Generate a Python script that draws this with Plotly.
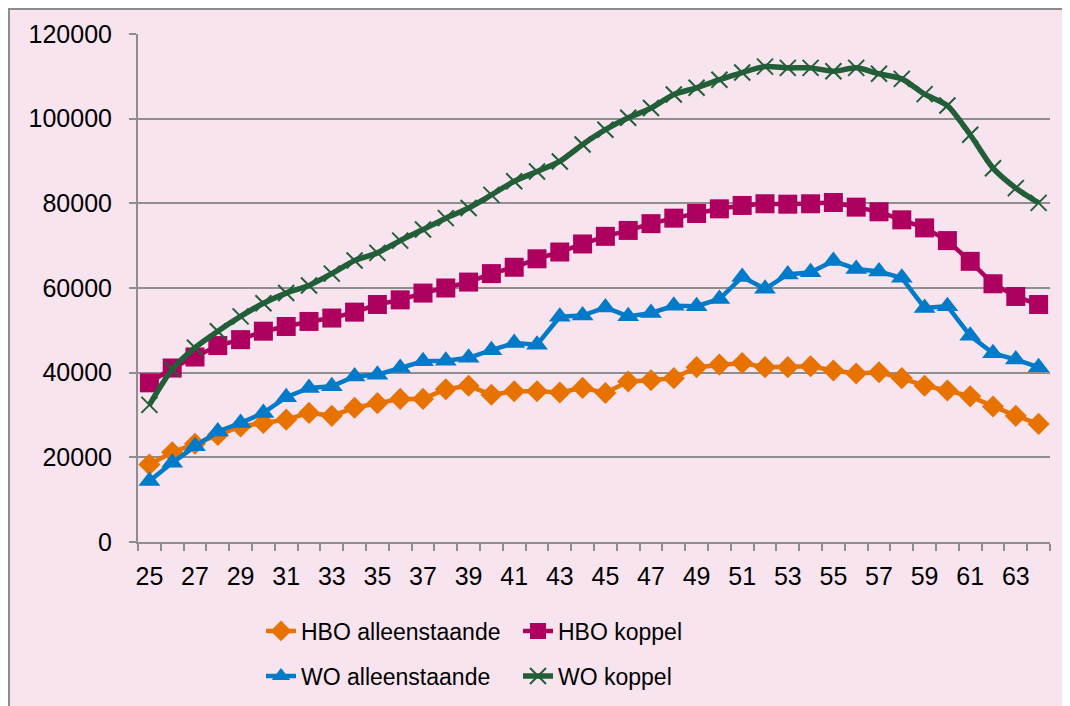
import plotly.graph_objects as go

ages = list(range(25, 65))

hbo_alleen = [18300, 21200, 23200, 25300, 27300, 28100, 28900, 30500, 29800, 31700,
              32800, 33800, 33800, 36100, 36900, 34800, 35600, 35600, 35300, 36400,
              35200, 37900, 38200, 38700, 41300, 41900, 42300, 41300, 41300, 41500,
              40500, 39800, 40100, 38700, 36900, 35800, 34400, 32000, 29800, 27900]

hbo_koppel = [37600, 41100, 43700, 46400, 47800, 49800, 50900, 52100, 52900, 54300,
              56100, 57200, 58800, 60000, 61400, 63400, 64900, 66900, 68500, 70400,
              72200, 73600, 75200, 76500, 77600, 78700, 79500, 79900, 79800, 79900,
              80200, 79100, 78000, 76100, 74200, 71200, 66300, 61000, 58000, 56100]

wo_alleen = [14400, 18700, 22600, 26100, 28100, 30500, 34200, 36400, 36800, 39100,
             39500, 41100, 42700, 42800, 43500, 45300, 47000, 46600, 53200, 53500,
             55400, 53300, 54100, 55800, 55700, 57400, 62600, 59800, 63200, 63700,
             66400, 64500, 63900, 62400, 55300, 55700, 48700, 44600, 43100, 41300]

wo_koppel = [32400, 40800, 45900, 49800, 53300, 56400, 58800, 60600, 63400, 66500,
             68300, 71200, 73800, 76500, 78900, 82000, 85200, 87500, 89900, 93900,
             97400, 100200, 102500, 105700, 107300, 109200, 110900, 112300, 112000, 112000,
             111200, 112000, 110600, 109400, 105800, 103100, 96200, 88300, 83600, 80100]

x_tick_labels = [str(a) for a in range(25, 65, 2)]
y_tick_values = [0, 20000, 40000, 60000, 80000, 100000, 120000]

ORANGE = "#E87200"
MAGENTA = "#AE005F"
BLUE = "#007AC9"
GREEN = "#225E38"
BG = "#F7E4EF"
GRID = "#8E8E8E"
FONT = "Liberation Sans, Arial, sans-serif"

fig = go.Figure()

fig.add_trace(go.Scatter(
    x=ages, y=hbo_alleen, name="HBO alleenstaande", mode="lines+markers",
    line=dict(color=ORANGE, width=4.5),
    marker=dict(symbol="diamond", size=17, color=ORANGE),
    legend="legend"))
fig.add_trace(go.Scatter(
    x=ages, y=hbo_koppel, name="HBO koppel", mode="lines+markers",
    line=dict(color=MAGENTA, width=4.5),
    marker=dict(symbol="square", size=19, color=MAGENTA),
    legend="legend"))
fig.add_trace(go.Scatter(
    x=ages, y=wo_alleen, name="WO alleenstaande", mode="lines+markers",
    line=dict(color=BLUE, width=4.5),
    marker=dict(symbol="triangle-up", size=19, color=BLUE),
    legend="legend2"))
fig.add_trace(go.Scatter(
    x=ages, y=wo_koppel, name="WO koppel", mode="lines+markers",
    line=dict(color=GREEN, width=5.5, shape="spline", smoothing=0.7),
    marker=dict(symbol="x-thin", size=16, color=GREEN,
                line=dict(color=GREEN, width=2)),
    legend="legend2"))

# page is offset by the browser's 8px body margin
OFF = 8
W, H = 1070 - OFF, 706 - OFF
L, R, T = 130, 20, 26
B = H - 534
pw, ph = W - L - R, H - T - B

def px_x(p):
    return (p - OFF - L) / pw

def px_y(p):
    return (H - B - (p - OFF)) / ph

fig.add_shape(type="rect", xref="paper", yref="paper",
              x0=px_x(OFF + 1), x1=px_x(1200), y0=px_y(OFF + 1), y1=px_y(900),
              fillcolor="rgba(0,0,0,0)", line=dict(color="#8C8C8C", width=2),
              layer="below")

boundaries = [a - 0.5 for a in ages] + [ages[-1] + 0.5]

fig.update_layout(
    width=W, height=H,
    margin=dict(l=L, r=R, t=T, b=B, autoexpand=False),
    paper_bgcolor=BG,
    plot_bgcolor=BG,
    font=dict(family=FONT, color="black"),
    xaxis=dict(
        range=[24.5, 64.5],
        tickmode="array",
        tickvals=list(range(25, 65, 2)),
        ticktext=x_tick_labels,
        ticks="outside", ticklen=7, tickcolor="rgba(0,0,0,0)",
        showgrid=False,
        zeroline=False,
        showline=True, linecolor=GRID, linewidth=2,
        tickfont=dict(size=25, family=FONT, color="black"),
        ticklabelstandoff=4,
        minor=dict(tickmode="array", tickvals=boundaries, ticks="outside",
                   ticklen=7, tickwidth=2, tickcolor=GRID, showgrid=False),
    ),
    yaxis=dict(
        range=[0, 120000],
        tickmode="array",
        tickvals=y_tick_values,
        ticktext=[str(v) for v in y_tick_values],
        ticks="outside", ticklen=7, tickwidth=2, tickcolor=GRID,
        showgrid=True, gridcolor=GRID, gridwidth=2,
        zeroline=False,
        showline=True, linecolor=GRID, linewidth=2,
        tickfont=dict(size=25, family=FONT, color="black"),
        ticklabelstandoff=12,
    ),
    legend=dict(orientation="h", x=px_x(261), xanchor="left",
                y=px_y(631), yanchor="middle",
                entrywidth=212, entrywidthmode="pixels",
                font=dict(size=23, family=FONT, color="black"),
                bgcolor="rgba(0,0,0,0)", traceorder="normal"),
    legend2=dict(orientation="h", x=px_x(261), xanchor="left",
                 y=px_y(676), yanchor="middle",
                 entrywidth=212, entrywidthmode="pixels",
                 font=dict(size=23, family=FONT, color="black"),
                 bgcolor="rgba(0,0,0,0)", traceorder="normal"),
)

fig.write_html("out.html")
